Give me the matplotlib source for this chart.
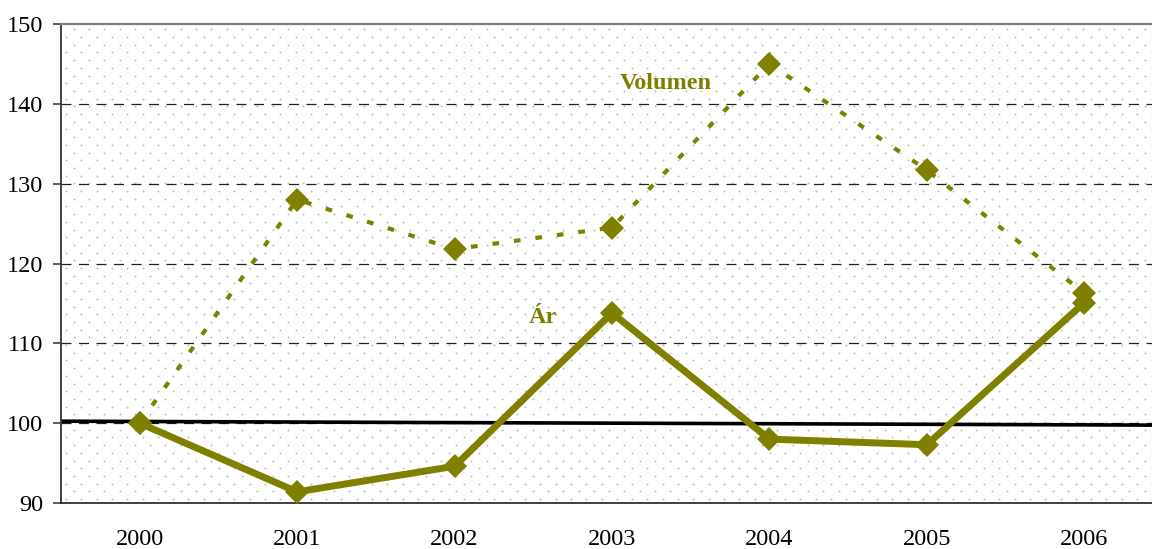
import numpy as np
import matplotlib
matplotlib.use("Agg")
import matplotlib.pyplot as plt

# ---------- data ----------
years   = ["2000", "2001", "2002", "2003", "2004", "2005", "2006"]
volumen = [100.0, 128.0, 121.8, 124.5, 145.0, 131.7, 116.3]
ar      = [100.0, 91.4, 94.6, 113.8, 98.0, 97.3, 115.1]
base_x  = [-0.5, 6.5]          # reference line across the plot
base_y  = [100.25, 99.75]
yticks  = [90, 100, 110, 120, 130, 140, 150]
grid_y  = [100, 110, 120, 130, 140]

OLIVE = "#808000"
plt.rcParams["font.family"] = ["Liberation Serif", "DejaVu Serif"]

W, H = 1152, 549
fig = plt.figure(figsize=(W / 100, H / 100), dpi=100)
ax = fig.add_axes([61 / W, 46 / H, 1102 / W, 479 / H])
ax.set_xlim(-0.5, 6.5)
ax.set_ylim(90, 150)

# ---------- dotted background pattern ----------
axw, axh = 1102, 479
dx, dy = 15.3, 7.7
pts = []
for r, yy in enumerate(np.arange(4, axh, dy)):
    off = 0 if r % 2 == 0 else dx / 2
    for xx in np.arange(5 + off, axw, dx):
        pts.append((xx / axw, yy / axh))
pts = np.array(pts)
ax.scatter(pts[:, 0], pts[:, 1], s=2.0, color="#bdbdbd", lw=0,
           transform=ax.transAxes, zorder=0)

# ---------- grid ----------
for g in grid_y:
    ax.axhline(g, color="#202020", lw=0.9, dashes=(8, 6), zorder=1)

# ---------- series ----------
x = np.arange(len(years))
ax.plot(base_x, base_y, color="black", lw=2.6, zorder=2)
ax.plot(x, volumen, color=OLIVE, lw=3, dashes=(1.6, 3.6), dash_capstyle="butt",
        marker="D", ms=12.5, mew=0, zorder=3)
ax.plot(x, ar, color=OLIVE, lw=5, solid_joinstyle="miter",
        marker="D", ms=12.5, mew=0, zorder=4)

ax.text(3.34, 142.5, "Volumen", color=OLIVE, fontsize=17.5, fontweight="bold",
        ha="center", va="center")
ax.text(2.56, 113.2, "Ár", color=OLIVE, fontsize=17.5, fontweight="bold",
        ha="center", va="center")

# ---------- axes styling ----------
ax.set_xticks(x)
ax.set_xticklabels(years)
ax.set_yticks(yticks)
ax.tick_params(axis="x", length=0, pad=19, labelsize=17.5)
ax.tick_params(axis="y", length=6, width=1.2, pad=7, labelsize=17.5, color="#404040")
ax.spines["right"].set_visible(False)
ax.spines["top"].set_color("#808080")
ax.spines["top"].set_linewidth(1.6)
ax.spines["left"].set_color("#404040")
ax.spines["left"].set_linewidth(1.4)
ax.spines["bottom"].set_color("#202020")
ax.spines["bottom"].set_linewidth(1.2)

fig.savefig("out.png", dpi=100)
